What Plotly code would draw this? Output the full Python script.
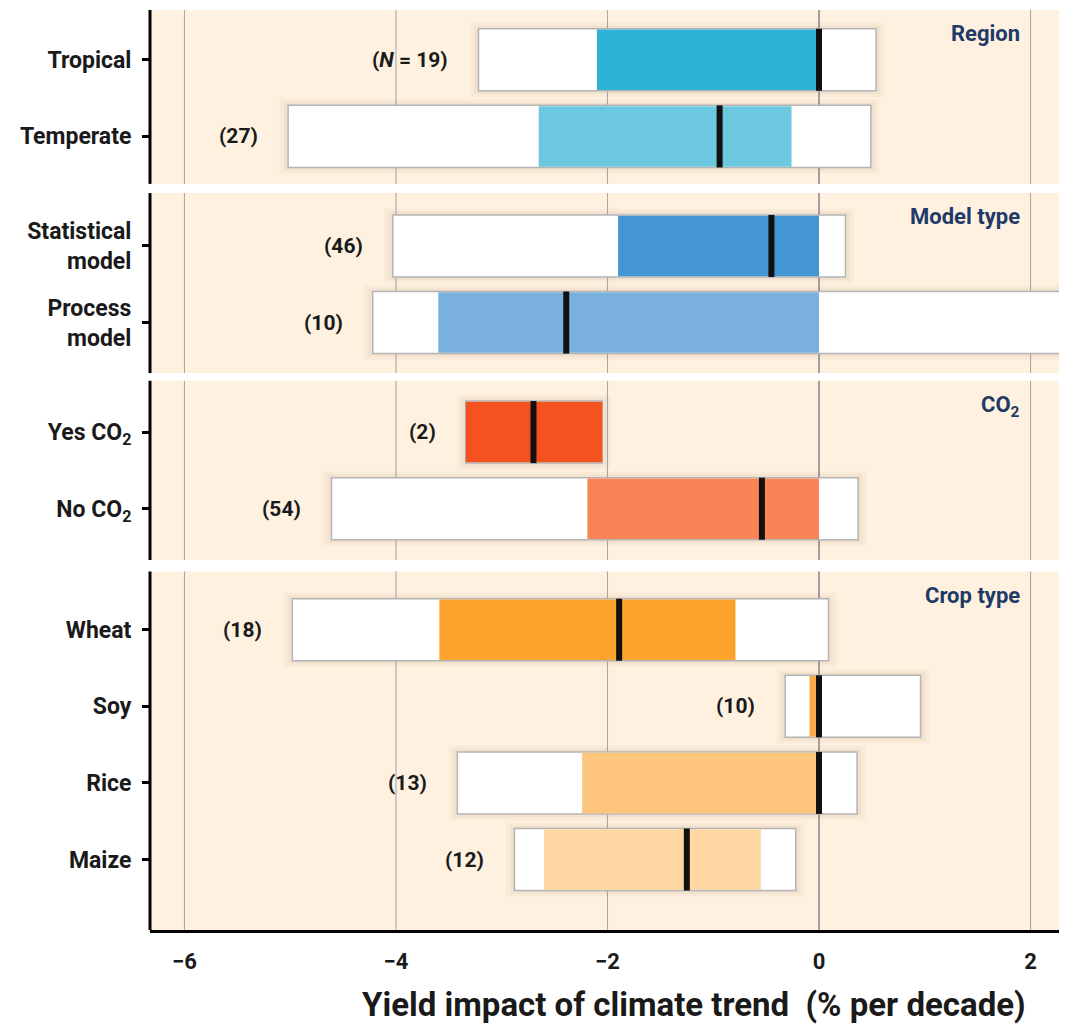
import plotly.graph_objects as go

# ---------------- data ----------------
categories = ["Tropical", "Temperate", "Statistical<br>model", "Process<br>model",
              "Yes CO<sub>2</sub>", "No CO<sub>2</sub>", "Wheat", "Soy", "Rice", "Maize"]
group_names = ["Region", "Model type", "CO<sub>2</sub>", "Crop type"]
group_sizes = [2, 2, 2, 4]
n_labels = ["(<i>N</i> = 19)", "(27)", "(46)", "(10)", "(2)", "(54)", "(18)", "(10)", "(13)", "(12)"]
range_min = [-3.22, -5.02, -4.03, -4.22, -3.34, -4.61, -4.98, -0.32, -3.42, -2.88]
q_low     = [-2.10, -2.65, -1.90, -3.60, -3.34, -2.19, -3.59, -0.09, -2.24, -2.60]
median    = [0.00, -0.94, -0.45, -2.39, -2.70, -0.54, -1.89, 0.00, 0.00, -1.25]
q_high    = [0.00, -0.26, 0.00, 0.00, -2.05, 0.00, -0.79, 0.00, 0.00, -0.55]
range_max = [0.54, 0.49, 0.25, 2.60, -2.05, 0.37, 0.09, 0.96, 0.36, -0.22]
inner_colors = ["#2eb3d8", "#6cc7e1", "#4496d2", "#7ab0dd", "#f5521f",
                "#fa8456", "#fca32e", "#fcaa48", "#fdc67c", "#fed7a2"]
x_ticks = [-6, -4, -2, 0, 2]
x_ticktext = ["\u22126", "\u22124", "\u22122", "0", "2"]
x_title = "Yield impact of climate trend  (% per decade)"

# ---------------- layout helpers ----------------
group_gap = [1.43, 1.43, 1.58]
pad_top = [0.65, 0.69, 0.67, 0.76]
pad_bot = [0.62, 0.66, 0.67, 0.92]
BAR_W = 0.81

y_pos = []
panels = []
cur = 0.0
for gi, size in enumerate(group_sizes):
    start = cur
    for k in range(size):
        y_pos.append(cur)
        cur += 1.0
    end = cur - 1.0
    panels.append((start - pad_top[gi], end + pad_bot[gi]))
    if gi < len(group_gap):
        cur = end + group_gap[gi]

y_top = panels[0][0]
y_bottom = panels[-1][1]

BEIGE = "#fef1e0"
FONT = "Roboto, Arial"

fig = go.Figure()

# soft shadow behind the boxes (two faint layers)
for SH, EXTRA, alpha in [(0.08, 0.16, 0.05), (0.04, 0.08, 0.07)]:
    fig.add_trace(go.Bar(
        y=y_pos, x=[b - a + 2 * SH for a, b in zip(range_min, range_max)],
        base=[a - SH for a in range_min],
        orientation="h", width=BAR_W + EXTRA,
        marker=dict(color="rgba(150,115,80,%.2f)" % alpha, line=dict(width=0)),
        hoverinfo="skip", showlegend=False))
# outer range boxes (white)
fig.add_trace(go.Bar(
    y=y_pos, x=[b - a for a, b in zip(range_min, range_max)], base=range_min,
    orientation="h", width=BAR_W,
    marker=dict(color="white", line=dict(color="#b4b4b4", width=1.5)),
    hoverinfo="skip", showlegend=False))
# inner coloured boxes
fig.add_trace(go.Bar(
    y=y_pos, x=[b - a for a, b in zip(q_low, q_high)], base=q_low,
    orientation="h", width=BAR_W - 0.02,
    marker=dict(color=inner_colors, line=dict(width=0)),
    hoverinfo="skip", showlegend=False))
fig.update_layout(barmode="overlay")

# median markers
mx, my = [], []
for m, y in zip(median, y_pos):
    mx += [m, m, None]
    my += [y - BAR_W / 2, y + BAR_W / 2, None]
fig.add_trace(go.Scatter(x=mx, y=my, mode="lines",
                         line=dict(color="#111111", width=6),
                         hoverinfo="skip", showlegend=False))

shapes = []
for (p0, p1) in panels:
    shapes.append(dict(type="rect", xref="paper", yref="y", x0=0, x1=1, y0=p0, y1=p1,
                       fillcolor=BEIGE, line=dict(width=0), layer="below"))
for (p0, p1) in panels:
    for xv in x_ticks:
        shapes.append(dict(type="line", xref="x", yref="y", x0=xv, x1=xv, y0=p0, y1=p1,
                           line=dict(color="#8c8c8c" if xv == 0 else "#a8a8a8",
                                     width=1.6 if xv == 0 else 1.1),
                           layer="below"))
    shapes.append(dict(type="line", xref="paper", yref="y", x0=0, x1=0, y0=p0, y1=p1,
                       line=dict(color="black", width=3), layer="above"))

annotations = []
for lab, xm, y in zip(n_labels, range_min, y_pos):
    annotations.append(dict(x=xm, y=y, xref="x", yref="y", text="<b>" + lab + "</b>",
                            showarrow=False, xanchor="right", yanchor="middle", xshift=-28,
                            font=dict(family=FONT, size=21, color="#1a1a1a")))
for name, (p0, p1) in zip(group_names, panels):
    annotations.append(dict(x=1.92, y=p0, xref="x", yref="y", text="<b>" + name + "</b>",
                            showarrow=False, xanchor="right", yanchor="top", yshift=-9,
                            font=dict(family=FONT, size=22, color="#1f3a68")))
annotations.append(dict(x=0.596, y=-0.0815, xref="paper", yref="paper",
                        text="<b>" + x_title + "</b>", showarrow=False,
                        xanchor="center", yanchor="middle",
                        font=dict(family=FONT, size=33, color="#1a1a1a")))

# page body adds an 8px offset; margins compensate so plot area sits at x 150-1063, y 10-930
fig.update_layout(
    width=1067, height=1026,
    margin=dict(l=142, r=12, t=2, b=104),
    paper_bgcolor="white", plot_bgcolor="white",
    shapes=shapes, annotations=annotations,
    font=dict(family=FONT, color="#1a1a1a"),
    xaxis=dict(range=[-6.326, 2.307], tickvals=x_ticks, ticktext=x_ticktext,
               showgrid=False, zeroline=False, showline=True, linecolor="black",
               linewidth=3, ticks="", ticklabelstandoff=10,
               tickfont=dict(family=FONT, size=22, weight="bold"),
               fixedrange=True),
    yaxis=dict(range=[y_bottom, y_top], tickvals=y_pos, ticktext=categories,
               showgrid=False, zeroline=False, showline=False,
               ticks="outside", ticklen=7, tickwidth=2.5, tickcolor="black",
               ticklabelstandoff=6,
               tickfont=dict(family=FONT, size=23, weight="bold", color="#1a1a1a"),
               fixedrange=True),
)

fig.write_html("out.html")
